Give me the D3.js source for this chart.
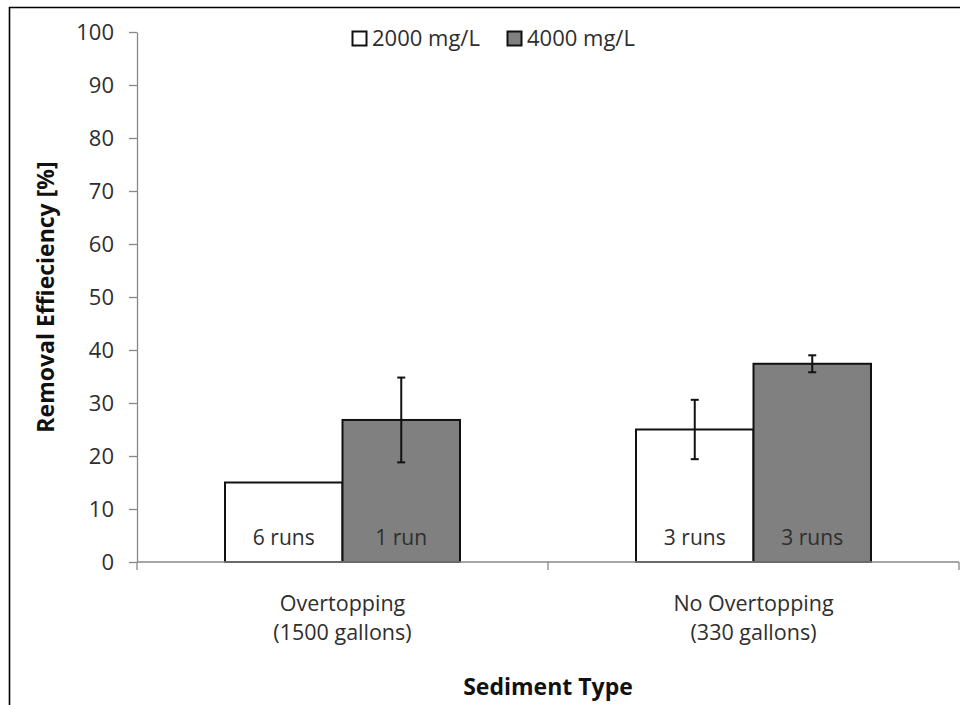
<!DOCTYPE html>
<html>
<head>
<meta charset="utf-8">
<script src="https://cdn.jsdelivr.net/npm/d3@7"></script>
<style>
  html, body { margin: 0; padding: 0; background: #fff; }
  svg { display: block; font-family: "Open Sans", sans-serif; }
</style>
</head>
<body>
<svg id="chart" width="960" height="705"></svg>
<script>
// Sediment removal efficiency by sediment type and concentration
const categories = ["Overtopping\n(1500 gallons)", "No Overtopping\n(330 gallons)"];
const series = ["2000 mg/L", "4000 mg/L"];
const values2000 = [15.0, 25.0];
const values4000 = [26.8, 37.4];
const errors2000 = [null, 5.6];
const errors4000 = [8.0, 1.6];
const runLabels2000 = ["6 runs", "3 runs"];
const runLabels4000 = ["1 run", "3 runs"];
const yTicks = [0, 10, 20, 30, 40, 50, 60, 70, 80, 90, 100];

const colors = { "2000 mg/L": "#ffffff", "4000 mg/L": "#808080" };
const textColor = "#2e2e2e";
const axisColor = "#888888";

const svg = d3.select("#chart");
const plot = { left: 137, right: 959, top: 32, bottom: 562 };

// Outer frame (top and left edges visible)
svg.append("path")
  .attr("d", `M9.5,705 L9.5,7.5 L960,7.5`)
  .attr("fill", "none").attr("stroke", "#000").attr("stroke-width", 1.6);

const x0 = d3.scaleBand().domain(categories).range([plot.left, plot.right]).padding(0);
const x1 = d3.scaleBand().domain(series).range([0, x0.bandwidth()])
  .paddingInner(0).paddingOuter(0.749);
const y = d3.scaleLinear().domain([0, 100]).range([plot.bottom, plot.top]);

const rows = categories.map((c, i) => ({
  category: c,
  bars: [
    { s: series[0], v: values2000[i], e: errors2000[i], label: runLabels2000[i] },
    { s: series[1], v: values4000[i], e: errors4000[i], label: runLabels4000[i] }
  ]
}));

// Y axis
const yAxis = svg.append("g")
  .attr("transform", `translate(${plot.left},0)`)
  .call(d3.axisLeft(y).tickValues(yTicks).tickSize(8).tickSizeOuter(0).tickPadding(15));
yAxis.select(".domain").attr("stroke", axisColor).attr("stroke-width", 1.3);
yAxis.selectAll(".tick line").attr("stroke", axisColor).attr("stroke-width", 1.3);
yAxis.selectAll(".tick text")
  .attr("fill", textColor).style("font-size", "22px").style("font-family", "Open Sans");

// Bars
const groups = svg.append("g").selectAll("g").data(rows).join("g")
  .attr("transform", d => `translate(${x0(d.category)},0)`);

groups.selectAll("rect").data(d => d.bars).join("rect")
  .attr("x", d => x1(d.s))
  .attr("y", d => y(d.v))
  .attr("width", x1.bandwidth())
  .attr("height", d => y(0) - y(d.v))
  .attr("fill", d => colors[d.s])
  .attr("stroke", "#111")
  .attr("stroke-width", 2);

// Error bars
const errG = groups.selectAll("g.err").data(d => d.bars.filter(b => b.e != null)).join("g")
  .attr("class", "err")
  .attr("transform", d => `translate(${x1(d.s) + x1.bandwidth() / 2},0)`);
errG.append("line")
  .attr("y1", d => y(d.v + d.e)).attr("y2", d => y(d.v - d.e))
  .attr("stroke", "#111").attr("stroke-width", 2);
errG.selectAll("line.cap").data(d => [d.v + d.e, d.v - d.e]).join("line")
  .attr("class", "cap")
  .attr("x1", -4).attr("x2", 4)
  .attr("y1", v => y(v)).attr("y2", v => y(v))
  .attr("stroke", "#111").attr("stroke-width", 2);

// Run-count labels inside bars
groups.selectAll("text.runs").data(d => d.bars).join("text")
  .attr("class", "runs")
  .attr("x", d => x1(d.s) + x1.bandwidth() / 2)
  .attr("y", y(0) - 17)
  .attr("text-anchor", "middle")
  .attr("fill", textColor)
  .style("font-size", "21px")
  .text(d => d.label);

// X axis line and category boundary ticks
const xg = svg.append("g");
xg.append("line")
  .attr("x1", plot.left).attr("x2", plot.right)
  .attr("y1", y(0)).attr("y2", y(0))
  .attr("stroke", axisColor).attr("stroke-width", 1.3);
const bounds = categories.map(c => x0(c)).concat([x0.range()[1]]);
xg.selectAll("line.bt").data(bounds).join("line")
  .attr("class", "bt")
  .attr("x1", d => d).attr("x2", d => d)
  .attr("y1", y(0)).attr("y2", y(0) + 8)
  .attr("stroke", axisColor).attr("stroke-width", 1.3);

// Category labels
const catText = xg.selectAll("text.cat").data(categories).join("text")
  .attr("class", "cat")
  .attr("text-anchor", "middle")
  .attr("fill", textColor)
  .style("font-size", "21.5px");
catText.selectAll("tspan").data(d => d.split("\n").map(t => ({ t, c: d }))).join("tspan")
  .attr("x", d => x0(d.c) + x0.bandwidth() / 2)
  .attr("y", (d, i) => 611 + i * 29)
  .text(d => d.t);

// Axis titles
svg.append("text")
  .attr("x", x0.range()[0] + x0.bandwidth())
  .attr("y", 695)
  .attr("text-anchor", "middle")
  .attr("fill", "#111")
  .style("font-size", "23px").style("font-weight", "bold")
  .text("Sediment Type");

svg.append("text")
  .attr("transform", `translate(54,${(plot.top + plot.bottom) / 2}) rotate(-90)`)
  .attr("text-anchor", "middle")
  .attr("fill", "#111")
  .style("font-size", "23px").style("font-weight", "bold")
  .text("Removal Effieciency [%]");

// Legend
const legend = svg.append("g").attr("transform", "translate(352,31)");
const legendItems = legend.selectAll("g").data(series).join("g")
  .attr("transform", (d, i) => `translate(${i * 155},0)`);
legendItems.append("rect")
  .attr("x", 0.5).attr("y", 0.5).attr("width", 14).attr("height", 14)
  .attr("fill", d => colors[d]).attr("stroke", "#111").attr("stroke-width", 2);
legendItems.append("text")
  .attr("x", 20).attr("y", 14.5)
  .attr("fill", textColor)
  .style("font-size", "22px")
  .text(d => d);
</script>
</body>
</html>
